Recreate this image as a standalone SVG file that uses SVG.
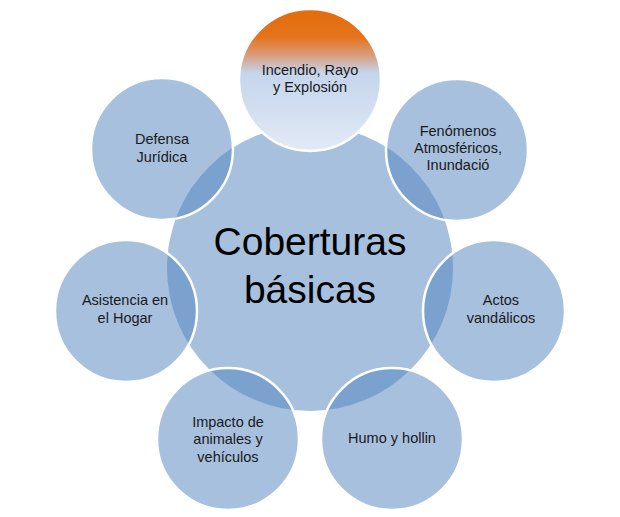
<svg xmlns="http://www.w3.org/2000/svg" width="620" height="517" viewBox="0 0 620 517">
<defs>
<linearGradient id="topGrad" x1="0" y1="0" x2="0" y2="1">
<stop offset="0" stop-color="#E46C0A"/>
<stop offset="0.2" stop-color="#E4741C"/>
<stop offset="0.32" stop-color="#D99A78"/>
<stop offset="0.45" stop-color="#C5D5EC"/>
<stop offset="1" stop-color="#E2EAF6"/>
</linearGradient>
<style>
.center{fill:#A7C0DE;}
.outer{fill:#4F81BD;fill-opacity:0.5;stroke:#FFFFFF;stroke-width:2.5;}
.top{fill:url(#topGrad);stroke:#FFFFFF;stroke-width:2.5;}
.lbl{font-family:"Liberation Sans",Arial,sans-serif;font-size:14.5px;fill:#1A1A1A;text-anchor:middle;}
.big{font-family:"Liberation Sans",Arial,sans-serif;font-size:39px;fill:#000000;text-anchor:middle;}
</style>
</defs>
<g id="connectors"></g>
<g id="node-center">
<circle class="center" cx="310" cy="268" r="143"/>
<text class="big" x="310" y="255">Coberturas</text>
<text class="big" x="310" y="303">básicas</text>
</g>
<g id="node-incendio">
<circle class="top" cx="310" cy="80" r="71"/>
<text class="lbl" x="310" y="75">Incendio, Rayo</text>
<text class="lbl" x="310" y="92">y Explosión</text>
</g>
<g id="node-fenomenos">
<circle class="outer" cx="457" cy="150" r="71"/>
<text class="lbl" x="458" y="136">Fenómenos</text>
<text class="lbl" x="458" y="153">Atmosféricos,</text>
<text class="lbl" x="458" y="170">Inundació</text>
</g>
<g id="node-actos">
<circle class="outer" cx="494" cy="311" r="71"/>
<text class="lbl" x="501" y="305">Actos</text>
<text class="lbl" x="501" y="323">vandálicos</text>
</g>
<g id="node-humo">
<circle class="outer" cx="392" cy="439" r="71"/>
<text class="lbl" x="392" y="443">Humo y hollin</text>
</g>
<g id="node-impacto">
<circle class="outer" cx="228" cy="439" r="71"/>
<text class="lbl" x="228" y="427">Impacto de</text>
<text class="lbl" x="228" y="444">animales y</text>
<text class="lbl" x="228" y="462">vehículos</text>
</g>
<g id="node-asistencia">
<circle class="outer" cx="126" cy="311" r="71"/>
<text class="lbl" x="125" y="305">Asistencia en</text>
<text class="lbl" x="125" y="323">el Hogar</text>
</g>
<g id="node-defensa">
<circle class="outer" cx="162" cy="149" r="71"/>
<text class="lbl" x="162" y="144">Defensa</text>
<text class="lbl" x="162" y="162">Jurídica</text>
</g>
</svg>
